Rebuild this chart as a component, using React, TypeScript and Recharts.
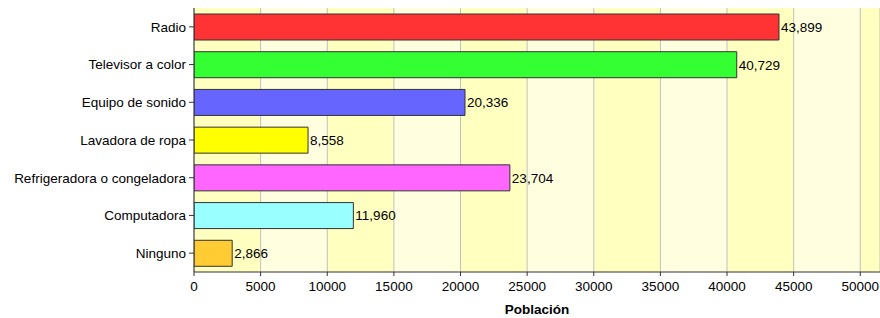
import React from 'react';
import { BarChart, Bar, XAxis, YAxis, CartesianGrid, Cell, LabelList } from 'recharts';

const categories = ['Radio', 'Televisor a color', 'Equipo de sonido', 'Lavadora de ropa', 'Refrigeradora o congeladora', 'Computadora', 'Ninguno'];
const values = [43899, 40729, 20336, 8558, 23704, 11960, 2866];
const colors = ['#FF3333', '#33FF33', '#6666FF', '#FFFF00', '#FF66FF', '#99FFFF', '#FFCC33'];
const xTicks = [0, 5000, 10000, 15000, 20000, 25000, 30000, 35000, 40000, 45000, 50000];

const data = categories.map((name, i) => ({ name, value: values[i] }));

if (typeof document !== 'undefined') {
  document.body.style.margin = '0';
}

const FONT = '"Liberation Sans", Arial, sans-serif';
const FS = 13.5;

export default function App() {
  return (
    <div style={{ width: 880, height: 318, background: '#fff' }}>
      <BarChart
        width={880}
        height={318}
        data={data}
        layout="vertical"
        margin={{ top: 8, right: 0, bottom: 0, left: 0 }}
      >
        <CartesianGrid
          horizontal={false}
          stroke="#C0C0C0"
          verticalFill={['#FFFFC0', '#FFFFE0']}
          fillOpacity={1}
        />
        <XAxis
          type="number"
          domain={[0, 51480]}
          ticks={xTicks}
          allowDataOverflow
          height={46}
          stroke="#333"
          tickSize={4}
          tickMargin={5}
          tick={{ fill: '#000', fontSize: FS, fontFamily: FONT }}
          label={{ value: 'Población', position: 'insideBottom', offset: 4, fill: '#000', fontSize: FS, fontWeight: 'bold', fontFamily: FONT }}
        />
        <XAxis
          xAxisId="top"
          orientation="top"
          type="number"
          domain={[0, 51480]}
          height={0}
          tick={false}
          tickLine={false}
          stroke="#333"
        />
        <YAxis
          type="category"
          dataKey="name"
          width={194}
          stroke="#333"
          tickSize={5}
          tickMargin={3}
          interval={0}
          tick={{ fill: '#000', fontSize: FS, fontFamily: FONT }}
        />
        <Bar dataKey="value" barSize={26} stroke="#333" strokeWidth={1} isAnimationActive={false}>
          {data.map((d, i) => (
            <Cell key={d.name} fill={colors[i]} />
          ))}
          <LabelList
            dataKey="value"
            position="right"
            offset={2}
            formatter={(v: number) => v.toLocaleString('en-US')}
            style={{ fill: '#000', fontSize: FS, fontFamily: FONT }}
          />
        </Bar>
      </BarChart>
    </div>
  );
}
